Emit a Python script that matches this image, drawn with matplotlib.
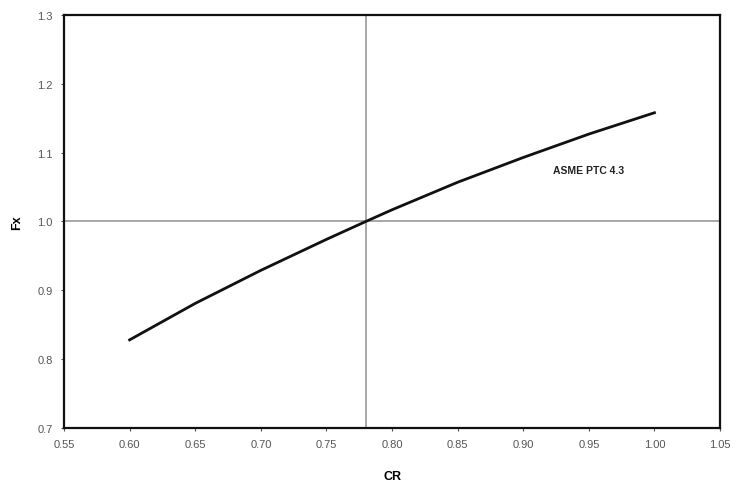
import matplotlib
matplotlib.use('Agg')
import matplotlib.pyplot as plt

plt.rcParams['font.family'] = ['Liberation Sans', 'DejaVu Sans']

# curve values
cr = [0.60, 0.65, 0.70, 0.75, 0.78, 0.80, 0.85, 0.90, 0.95, 1.00]
fx = [0.828, 0.881, 0.929, 0.974, 1.000, 1.017, 1.057, 1.093, 1.127, 1.158]

xticks = [0.55, 0.60, 0.65, 0.70, 0.75, 0.80, 0.85, 0.90, 0.95, 1.00, 1.05]
yticks = [0.7, 0.8, 0.9, 1.0, 1.1, 1.2, 1.3]
cr_ref = 0.78
fx_ref = 1.0

fig = plt.figure(figsize=(7.34, 4.85), dpi=100)
ax = fig.add_axes([0.0872, 0.1155, 0.8938, 0.8515])

ax.axvline(cr_ref, color='#909090', lw=1.1, zorder=1)
ax.axhline(fx_ref, color='#909090', lw=1.1, zorder=1)
ax.plot(cr, fx, color='#111111', lw=2, zorder=3)

ax.text(0.95, 1.075, 'ASME PTC 4.3', fontsize=7.5, fontweight='bold',
        ha='center', va='center', color='#222222')

ax.set_xlim(0.55, 1.05)
ax.set_ylim(0.7, 1.3)
ax.set_xticks(xticks)
ax.set_xticklabels(['%.2f' % v for v in xticks])
ax.set_yticks(yticks)
ax.set_yticklabels(['%.1f' % v for v in yticks])
ax.tick_params(length=2, width=0.8, labelsize=8, labelcolor='#555555',
               color='#555555', pad=6)

for s in ax.spines.values():
    s.set_linewidth(1.6)
    s.set_color('#111111')

ax.set_xlabel('CR', fontsize=9, fontweight='bold', labelpad=15)
ax.set_ylabel('Fx', fontsize=9, fontweight='bold', labelpad=10)

fig.savefig('out.png', dpi=100)
